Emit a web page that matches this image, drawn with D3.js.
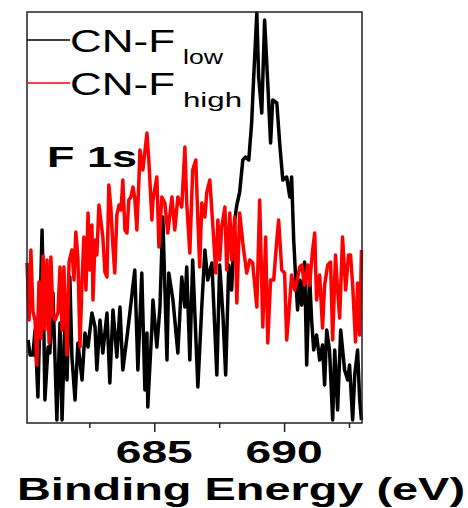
<!DOCTYPE html>
<html>
<head>
<meta charset="utf-8">
<script src="https://cdn.jsdelivr.net/npm/d3@7"></script>
<style>
  html, body { margin: 0; padding: 0; background: #fff; }
  svg { display: block; }
  text { font-family: "Liberation Sans", Arial, sans-serif; fill: #000; }
</style>
</head>
<body>
<svg id="chart" width="468" height="508"></svg>
<script>
// Binding energy range (eV) and axis ticks
const xDomain = [680.1, 693.0];
const majorTicks = [685, 690];
const minorTicks = [682.5, 687.5, 692.5];
const yDomain = [0, 411]; // intensity (a.u.)

// Series names
const seriesNames = ["CN-F", "CN-F"];
const seriesSubs = ["low", "high"];
const seriesColors = ["#000000", "#ff0000"];

// CN-F_low : [binding energy (eV), intensity (a.u.)]
const lowSeries = [
  [680.14,83],[680.22,68],[680.33,68],[680.41,93],[680.52,26],[680.68,193],[680.72,143],[680.79,23],[680.91,76],[680.98,70],
  [681.10,130],[681.25,3],[681.37,100],[681.45,3],[681.56,103],[681.64,43],[681.75,146],[681.83,66],[681.95,23],[682.06,80],
  [682.22,43],[682.33,90],[682.45,76],[682.60,110],[682.72,96],[682.79,53],[682.91,103],[683.02,70],[683.18,110],[683.29,40],
  [683.41,113],[683.56,66],[683.68,116],[683.79,53],[683.95,86],[684.06,110],[684.25,153],[684.37,53],[684.52,150],[684.64,33],
  [684.72,90],[684.75,16],[684.91,96],[684.95,123],[685.10,76],[685.22,116],[685.33,206],[685.49,63],[685.56,150],[685.72,123],
  [685.91,70],[686.06,146],[686.18,116],[686.25,156],[686.37,63],[686.48,163],[686.68,36],[686.83,116],[686.95,173],[687.06,143],
  [687.22,160],[687.41,48],[687.52,158],[687.64,110],[687.75,48],[687.87,158],[687.98,133],[688.10,203],[688.18,218],[688.29,231],
  [688.41,263],[688.52,266],[688.64,263],[688.75,300],[688.83,346],[688.95,410],[689.02,346],[689.14,310],[689.25,403],[689.37,340],
  [689.48,280],[689.56,323],[689.72,320],[689.83,280],[689.95,243],[690.10,246],[690.22,226],[690.29,246],[690.37,183],[690.45,143],
  [690.52,113],[690.60,143],[690.68,118],[690.79,161],[690.87,58],[690.98,148],[691.06,103],[691.14,73],[691.25,88],[691.37,63],
  [691.48,78],[691.56,38],[691.64,93],[691.75,73],[691.87,3],[691.95,73],[692.06,13],[692.18,93],[692.33,53],[692.45,43],
  [692.52,58],[692.64,3],[692.72,48],[692.83,73],[692.91,23],[692.98,3]
];

// CN-F_high : [binding energy (eV), intensity (a.u.)]
const highSeries = [
  [680.10,160],[680.18,103],[680.25,173],[680.33,111],[680.41,103],[680.48,58],[680.56,141],[680.64,85],[680.72,167],[680.79,93],
  [680.87,163],[680.95,80],[681.02,166],[681.10,107],[681.18,103],[681.29,110],[681.37,156],[681.45,93],[681.52,156],[681.64,68],
  [681.72,161],[681.83,173],[681.91,143],[681.98,191],[682.06,165],[682.14,76],[682.22,143],[682.29,186],[682.37,133],[682.45,210],
  [682.52,153],[682.60,198],[682.64,123],[682.72,183],[682.79,168],[682.87,218],[682.95,201],[683.02,186],[683.10,151],[683.18,146],
  [683.25,238],[683.33,215],[683.41,176],[683.48,150],[683.56,208],[683.64,218],[683.72,213],[683.79,243],[683.87,193],[683.95,190],
  [684.02,223],[684.10,226],[684.18,236],[684.25,225],[684.33,193],[684.41,243],[684.45,273],[684.56,253],[684.72,290],[684.79,263],
  [684.91,203],[684.95,223],[685.10,246],[685.18,176],[685.29,226],[685.41,220],[685.52,190],[685.68,226],[685.79,193],[685.91,226],
  [686.06,216],[686.18,276],[686.25,220],[686.37,170],[686.48,253],[686.60,263],[686.68,203],[686.75,156],[686.83,220],[686.95,206],
  [687.02,230],[687.14,243],[687.25,200],[687.37,150],[687.45,203],[687.52,163],[687.60,196],[687.72,216],[687.79,153],[687.91,210],
  [687.98,163],[688.10,206],[688.18,120],[688.29,210],[688.41,180],[688.56,150],[688.68,163],[688.79,160],[688.95,116],[689.06,223],
  [689.18,96],[689.29,186],[689.37,80],[689.48,143],[689.60,143],[689.72,183],[689.79,203],[689.91,153],[690.02,150],[690.10,83],
  [690.22,123],[690.29,148],[690.41,133],[690.52,145],[690.60,156],[690.68,158],[690.79,138],[690.91,158],[690.98,138],[691.10,173],
  [691.18,190],[691.25,123],[691.37,148],[691.48,95],[691.56,138],[691.68,158],[691.79,161],[691.87,83],[691.98,168],[692.06,133],
  [692.14,105],[692.25,186],[692.37,133],[692.48,168],[692.56,168],[692.64,138],[692.75,81],[692.83,140],[692.91,88],[692.98,173]
];

const svg = d3.select("#chart");
const plot = { left: 27, right: 362, top: 12, bottom: 423 };

const x = d3.scaleLinear().domain(xDomain).range([plot.left, plot.right]);
const y = d3.scaleLinear().domain(yDomain).range([plot.bottom, plot.top]);

const line = d3.line().x(d => x(d[0])).y(d => y(d[1]));

// Series (low first, high on top)
[lowSeries, highSeries].forEach((s, i) => {
  svg.append("path")
    .datum(s)
    .attr("d", line)
    .attr("fill", "none")
    .attr("stroke", seriesColors[i])
    .attr("stroke-width", 3.5)
    .attr("stroke-linejoin", "round");
});

// Frame
svg.append("rect")
  .attr("x", plot.left).attr("y", plot.top)
  .attr("width", plot.right - plot.left).attr("height", plot.bottom - plot.top)
  .attr("fill", "none").attr("stroke", "#222").attr("stroke-width", 1.5);

// Bottom axis ticks
const axisG = svg.append("g").attr("transform", `translate(0,${plot.bottom})`);
axisG.call(d3.axisBottom(x).tickValues(majorTicks).tickSize(9).tickFormat(""))
  .call(g => g.select(".domain").remove())
  .call(g => g.selectAll("line").attr("stroke", "#222").attr("stroke-width", 1.5));
const axisMinor = svg.append("g").attr("transform", `translate(0,${plot.bottom})`);
axisMinor.call(d3.axisBottom(x).tickValues(minorTicks).tickSize(5).tickFormat(""))
  .call(g => g.select(".domain").remove())
  .call(g => g.selectAll("line").attr("stroke", "#222").attr("stroke-width", 1.5));

// Tick labels
majorTicks.forEach(t => {
  svg.append("text")
    .attr("x", x(t) - 38.5).attr("y", 463)
    .attr("font-size", 32).attr("font-weight", "bold")
    .attr("textLength", 77).attr("lengthAdjust", "spacingAndGlyphs")
    .text(d3.format("d")(t));
});

// Axis title
svg.append("text")
  .attr("x", 17).attr("y", 500)
  .attr("font-size", 32).attr("font-weight", "bold")
  .attr("textLength", 448).attr("lengthAdjust", "spacingAndGlyphs")
  .text("Binding Energy (eV)");

// Legend
const legendY = [40, 83];
const mainBase = [52, 95];
const subBase = [64, 107];
const subLen = [40, 59];
seriesNames.forEach((name, i) => {
  svg.append("line")
    .attr("x1", plot.left).attr("x2", 70)
    .attr("y1", legendY[i]).attr("y2", legendY[i])
    .attr("stroke", seriesColors[i]).attr("stroke-width", 1.5);
  svg.append("text")
    .attr("x", 70).attr("y", mainBase[i])
    .attr("font-size", 32)
    .attr("textLength", 105).attr("lengthAdjust", "spacingAndGlyphs")
    .text(name);
  svg.append("text")
    .attr("x", 183).attr("y", subBase[i])
    .attr("font-size", 20)
    .attr("textLength", subLen[i]).attr("lengthAdjust", "spacingAndGlyphs")
    .text(seriesSubs[i]);
});

// Annotation
svg.append("text")
  .attr("x", 47).attr("y", 167)
  .attr("font-size", 30).attr("font-weight", "bold")
  .attr("textLength", 90).attr("lengthAdjust", "spacingAndGlyphs")
  .text("F 1s");
</script>
</body>
</html>
